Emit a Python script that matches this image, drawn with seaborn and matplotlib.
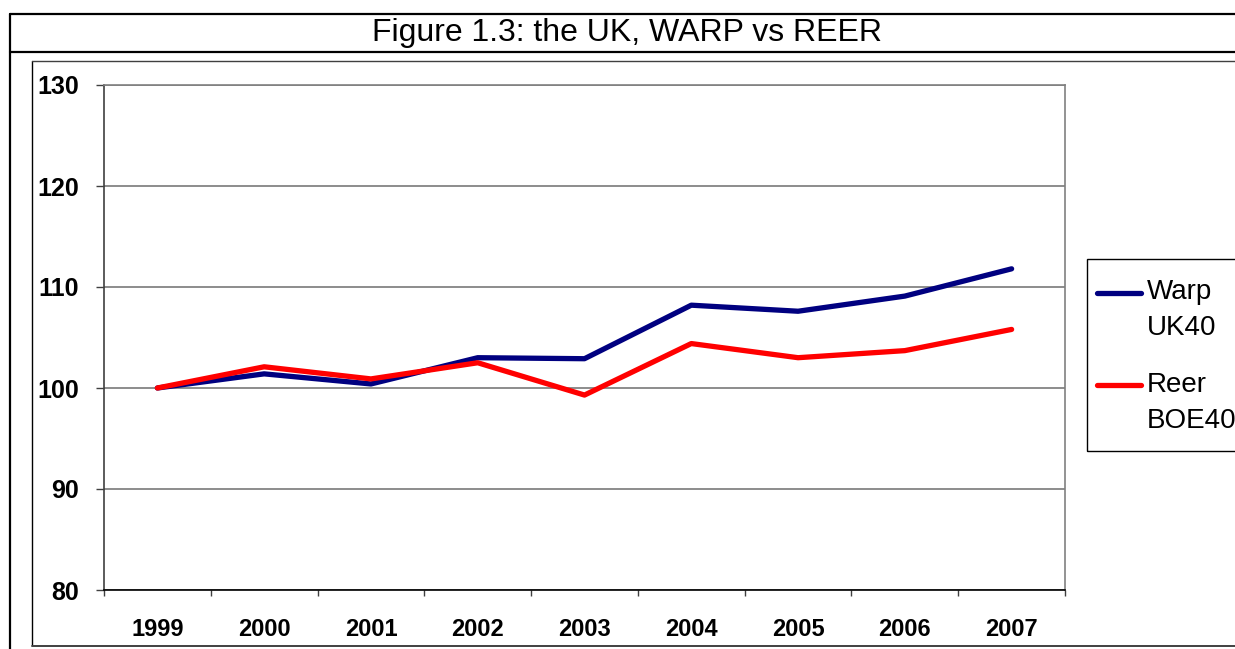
import matplotlib
matplotlib.use('Agg')
import matplotlib.pyplot as plt
from matplotlib.lines import Line2D
from matplotlib.patches import Rectangle
import pandas as pd
import seaborn as sns

# values
YEARS = ['1999', '2000', '2001', '2002', '2003', '2004', '2005', '2006', '2007']
WARP = [100.0, 101.4, 100.4, 103.0, 102.9, 108.2, 107.6, 109.1, 111.8]
REER = [100.0, 102.1, 100.9, 102.5, 99.3, 104.4, 103.0, 103.7, 105.8]
SERIES = ['Warp\nUK40', 'Reer\nBOE40']
COLORS = ['#000080', '#FF0000']
Y_TICKS = [80, 90, 100, 110, 120, 130]
TITLE = 'Figure 1.3: the UK, WARP vs REER'

W, H = 1235, 649

df = pd.DataFrame({
  'year': YEARS * 2,
  'value': WARP + REER,
  'series': [SERIES[0]] * len(YEARS) + [SERIES[1]] * len(YEARS),
})

sns.set_style('white')
plt.rcParams['font.family'] = ['Liberation Sans', 'DejaVu Sans']
plt.rcParams['text.color'] = 'black'
plt.rcParams['xtick.color'] = 'black'
plt.rcParams['ytick.color'] = 'black'

fig = plt.figure(figsize=(W / 100, H / 100), dpi=100)
fig.patch.set_facecolor('white')

def fx(px): return px / W
def fy(py): return 1 - py / H

''' frames around title and chart '''
frame = dict(transform=fig.transFigure, color='black')
fig.add_artist(Line2D([fx(9.5), fx(9.5)], [fy(14), fy(H + 5)], lw=1.6, **frame))
fig.add_artist(Line2D([fx(9.5), fx(W + 5)], [fy(14), fy(14)], lw=1.6, **frame))
fig.add_artist(Line2D([fx(9.5), fx(W + 5)], [fy(52), fy(52)], lw=1.6, **frame))
fig.add_artist(Line2D([fx(32), fx(32)], [fy(61), fy(645)], lw=1.0, **frame))
fig.add_artist(Line2D([fx(32), fx(W + 5)], [fy(61), fy(61)], lw=1.0, color='#404040', transform=fig.transFigure))
fig.add_artist(Line2D([fx(32), fx(W + 5)], [fy(645.5), fy(645.5)], lw=1.4, color='#404040', transform=fig.transFigure))

fig.text(fx(627), fy(41.5), TITLE, ha='center', va='baseline', fontsize=23)

''' plot area '''
ax = fig.add_axes([fx(104), fy(590), fx(1065 - 104), (590 - 85) / H])
sns.lineplot(data=df, x='year', y='value', hue='series', palette=COLORS,
             linewidth=3.8, sort=False, legend=False, ax=ax)
ax.set_xlim(-0.5, len(YEARS) - 0.5)
ax.set_ylim(Y_TICKS[0], Y_TICKS[-1])
ax.set_xlabel('')
ax.set_ylabel('')

ax.set_yticks(Y_TICKS)
ax.set_yticklabels([str(v) for v in Y_TICKS], fontsize=18, fontweight='bold')
ax.set_xticks(range(len(YEARS)))
ax.set_xticklabels(YEARS, fontsize=17, fontweight='bold')
ax.set_xticks([i - 0.5 for i in range(len(YEARS) + 1)], minor=True)
ax.tick_params(axis='x', which='major', length=0, pad=20)
ax.tick_params(axis='x', which='minor', direction='out', length=4.5, width=1, color='#404040', bottom=True)
ax.tick_params(axis='y', direction='out', length=6, width=1, color='#404040', pad=12, left=True)
ax.grid(axis='y', color='#6e6e6e', lw=1.1)
ax.grid(axis='x', visible=False)
for side, col in [('left', '#404040'), ('right', '#808080'), ('top', '#808080'), ('bottom', 'black')]:
  ax.spines[side].set_visible(True)
  ax.spines[side].set_color(col)
  ax.spines[side].set_linewidth(1.2)

''' legend '''
fig.add_artist(Rectangle((fx(1087), fy(451)), fx(W + 20 - 1087), (451 - 259) / H,
                         transform=fig.transFigure, fill=False, edgecolor='black', lw=1.0))
handles = [Line2D([], [], color=c, lw=3.8, solid_capstyle='round') for c in COLORS]
leg = fig.legend(handles, SERIES, loc='upper left', bbox_to_anchor=(fx(1097), fy(279)),
                 frameon=False, fontsize=20, handlelength=1.6, handletextpad=0.2,
                 labelspacing=1.1, borderpad=0, borderaxespad=0)
for t in leg.get_texts():
  t.set_linespacing(1.5)
# put each legend line beside the first text line, as in the reference
for h in leg.legend_handles:
  h.set_ydata([y + 12.8 for y in h.get_ydata()])

fig.savefig('out.png', dpi=100, facecolor='white')
